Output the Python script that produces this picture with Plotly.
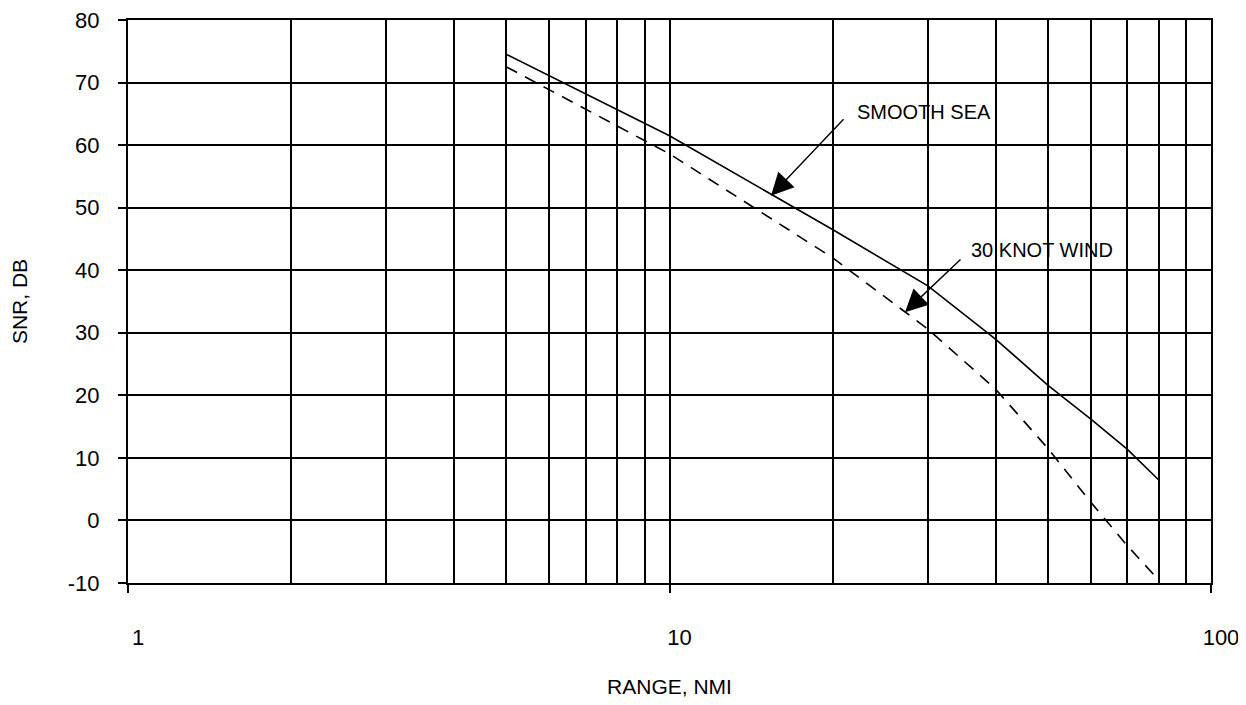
import plotly.graph_objects as go

range_nmi = [5, 10, 20, 30, 40, 50, 60, 70, 80]
smooth_sea = [74.5, 61.5, 46.5, 37.5, 29.0, 21.6, 16.2, 11.4, 6.5]
wind_30kt = [72.5, 58.6, 42.0, 30.6, 21.0, 11.5, 2.9, -4.0, -9.5]

x_major = [1, 10, 100]
x_major_text = ["1", "10", "100"]
x_minor = [2, 3, 4, 5, 6, 7, 8, 9, 20, 30, 40, 50, 60, 70, 80, 90]
y_ticks = [-10, 0, 10, 20, 30, 40, 50, 60, 70, 80]
y_ticks_text = ["-10", "0", "10", "20", "30", "40", "50", "60", "70", "80"]

fig = go.Figure()
fig.add_trace(go.Scatter(x=range_nmi, y=smooth_sea, mode="lines",
                         line=dict(color="black", width=1.6), name="SMOOTH SEA"))
fig.add_trace(go.Scatter(x=range_nmi, y=wind_30kt, mode="lines",
                         line=dict(color="black", width=1.6, dash="12px,9px"),
                         name="30 KNOT WIND"))

tick_font = dict(family="Liberation Sans, Arial", size=22, color="black")
title_font = dict(family="Liberation Sans, Arial", size=21, color="black")

fig.update_layout(
    width=1238, height=697,
    margin=dict(l=120, r=35, t=12, b=122),
    paper_bgcolor="white", plot_bgcolor="white",
    showlegend=False,
    xaxis=dict(
        type="log", range=[0, 2], automargin=False,
        tickmode="array", tickvals=x_major, ticktext=x_major_text,
        ticks="outside", ticklen=8, tickwidth=2, tickcolor="black",
        showgrid=True, gridcolor="black", gridwidth=2,
        minor=dict(tickmode="array", tickvals=x_minor, showgrid=True,
                   gridcolor="black", gridwidth=2, ticks=""),
        showline=True, linecolor="black", linewidth=2, mirror=True,
        tickfont=tick_font, ticklabelstandoff=26, ticklabelshift=10,
        ticklabeloverflow="allow",
        title=dict(text="RANGE, NMI", font=title_font, standoff=30),
        zeroline=False,
    ),
    yaxis=dict(
        range=[-10, 80], automargin=False,
        tickmode="array", tickvals=y_ticks, ticktext=y_ticks_text,
        ticks="outside", ticklen=8, tickwidth=2, tickcolor="black",
        showgrid=True, gridcolor="black", gridwidth=2,
        showline=True, linecolor="black", linewidth=2, mirror=True,
        tickfont=tick_font, ticklabelstandoff=14,
        ticklabeloverflow="allow",
        title=dict(text="SNR, DB", font=title_font, standoff=36),
        zeroline=False,
    ),
)

ann_font = dict(family="Liberation Sans, Arial", size=20, color="black")
arrow_style = dict(showarrow=True, arrowhead=2, arrowsize=3.2, arrowwidth=1.4,
                   arrowcolor="black", axref="pixel", ayref="pixel", text="")

# arrows (tip in data coords, tail offset in pixels)
fig.add_annotation(x=1.1874, y=51.9, xref="x", yref="y", ax=74, ay=-78, **arrow_style)
fig.add_annotation(x=1.4349, y=33.3, xref="x", yref="y", ax=57, ay=-54, **arrow_style)

# labels
fig.add_annotation(x=1.3426, y=65.3, xref="x", yref="y", text="SMOOTH SEA",
                   showarrow=False, xanchor="left", yanchor="middle", font=ann_font)
fig.add_annotation(x=1.5531, y=43.2, xref="x", yref="y", text="30 KNOT WIND",
                   showarrow=False, xanchor="left", yanchor="middle", font=ann_font)

fig.write_html("out.html")
